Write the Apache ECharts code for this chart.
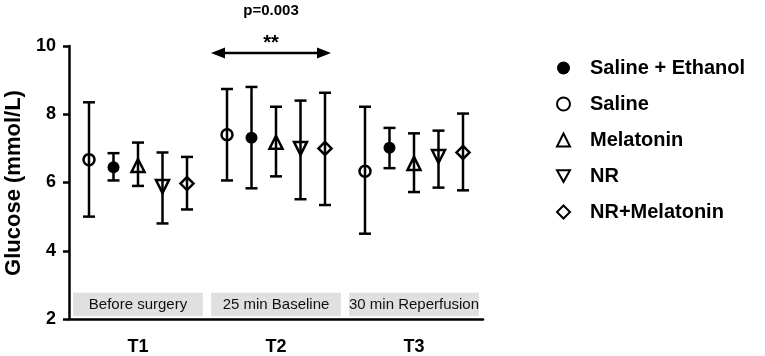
<!DOCTYPE html>
<html>
<head>
<meta charset="utf-8">
<script src="https://cdn.jsdelivr.net/npm/echarts@6/dist/echarts.min.js"></script>
<style>
  html, body { margin: 0; padding: 0; background: #fff; }
  #chart { width: 765px; height: 356px; }
</style>
</head>
<body>
<div id="chart"></div>
<script>
// time points and phase labels
var timepoints = ['T1', 'T2', 'T3'];
var phases = ['Before surgery', '25 min Baseline', '30 min Reperfusion'];

// glucose (mmol/L): mean, lower and upper end of error bar
var salineMean = [6.67, 7.40, 6.33];
var salineLow = [5.00, 6.06, 4.50];
var salineHigh = [8.35, 8.74, 8.22];

var salineEthanolMean = [6.45, 7.31, 7.02];
var salineEthanolLow = [6.06, 5.83, 6.42];
var salineEthanolHigh = [6.86, 8.80, 7.60];

var melatoninMean = [6.50, 7.18, 6.56];
var melatoninLow = [5.90, 6.18, 5.72];
var melatoninHigh = [7.17, 8.22, 7.44];

var nrMean = [5.88, 7.00, 6.76];
var nrLow = [4.80, 5.51, 5.85];
var nrHigh = [6.88, 8.40, 7.52];

var nrMelatoninMean = [5.97, 7.00, 6.88];
var nrMelatoninLow = [5.21, 5.34, 5.77];
var nrMelatoninHigh = [6.75, 8.63, 8.02];

var font = 'Arial, "Liberation Sans", sans-serif';
var barStyle = { stroke: '#000', lineWidth: 2.5 };
var downTriangle = 'path://M0,0 L20,0 L10,18 Z';

function errorBars(name, low, high, offset) {
    return {
        name: name,
        type: 'custom',
        z: 2,
        silent: true,
        encode: { x: 0, y: [1, 2] },
        data: timepoints.map(function (t, i) { return [i, low[i], high[i]]; }),
        renderItem: function (params, api) {
            var lo = api.coord([api.value(0), api.value(1)]);
            var hi = api.coord([api.value(0), api.value(2)]);
            var x = lo[0] + offset;
            var cap = 6;
            return {
                type: 'group',
                children: [
                    { type: 'line', shape: { x1: x, y1: lo[1], x2: x, y2: hi[1] }, style: barStyle },
                    { type: 'line', shape: { x1: x - cap, y1: hi[1], x2: x + cap, y2: hi[1] }, style: barStyle },
                    { type: 'line', shape: { x1: x - cap, y1: lo[1], x2: x + cap, y2: lo[1] }, style: barStyle }
                ]
            };
        }
    };
}

function points(name, mean, offset, symbol, size, filled) {
    return {
        name: name,
        type: 'scatter',
        z: 3,
        symbol: symbol,
        symbolSize: size,
        symbolOffset: [offset, 0],
        itemStyle: {
            color: filled ? '#000' : 'rgba(255,255,255,0)',
            borderColor: '#000',
            borderWidth: filled ? 0 : 2.5,
            opacity: 1
        },
        data: mean
    };
}

var step = 24.5;

var option = {
    animation: false,
    backgroundColor: '#fff',
    grid: { left: 69, right: 282, top: 46, bottom: 37, containLabel: false, outerBoundsMode: 'none' },
    xAxis: {
        type: 'category',
        data: timepoints,
        boundaryGap: true,
        axisLine: { lineStyle: { color: '#000', width: 2.5 } },
        axisTick: { alignWithLabel: true, length: 7, lineStyle: { color: '#000', width: 2.5 } },
        axisLabel: { color: '#000', fontWeight: 'bold', fontSize: 18, fontFamily: font, margin: 19 },
        splitLine: { show: false }
    },
    yAxis: {
        type: 'value',
        min: 2,
        max: 10,
        interval: 2,
        axisLine: { show: true, lineStyle: { color: '#000', width: 2.5 } },
        axisTick: { show: true, length: 6, lineStyle: { color: '#000', width: 2.5 } },
        axisLabel: { color: '#000', fontWeight: 'bold', fontSize: 18, fontFamily: font, margin: 13 },
        splitLine: { show: false }
    },
    legend: {
        orient: 'vertical',
        left: 551,
        top: 52,
        itemWidth: 13,
        itemHeight: 13,
        itemGap: 14,
        selectedMode: false,
        data: ['Saline + Ethanol', 'Saline', 'Melatonin', { name: 'NR', icon: downTriangle }, 'NR+Melatonin'],
        textStyle: { color: '#000', fontWeight: 'bold', fontSize: 20, fontFamily: font, lineHeight: 22, padding: [0, 0, 0, 15] }
    },
    graphic: [
        {
            type: 'text', x: 14, y: 183, rotation: Math.PI / 2,
            style: { text: 'Glucose (mmol/L)', font: 'bold 22px ' + font, fill: '#000', align: 'center', verticalAlign: 'middle' }
        },
        {
            type: 'text', x: 271, y: 11,
            style: { text: 'p=0.003', font: 'bold 15px ' + font, fill: '#000', align: 'center', verticalAlign: 'middle' }
        },
        {
            type: 'text', x: 271, y: 43,
            style: { text: '**', font: 'bold 20px ' + font, fill: '#000', align: 'center', verticalAlign: 'middle' }
        },
        { type: 'line', shape: { x1: 222, y1: 53, x2: 320, y2: 53 }, style: { stroke: '#000', lineWidth: 2.5 } },
        { type: 'polygon', shape: { points: [[211, 53], [225, 47.5], [225, 58.5]] }, style: { fill: '#000' } },
        { type: 'polygon', shape: { points: [[331, 53], [317, 47.5], [317, 58.5]] }, style: { fill: '#000' } }
    ],
    series: [
        {
            name: 'phase',
            type: 'custom',
            z: 1,
            silent: true,
            encode: { x: 0 },
            data: phases.map(function (p, i) { return [i]; }),
            renderItem: function (params, api) {
                var idx = api.value(0);
                var top = api.coord([idx, 2.77]);
                var bot = api.coord([idx, 2.08]);
                var w = api.size([1, 0])[0] * 0.94;
                return {
                    type: 'group',
                    children: [
                        { type: 'rect', shape: { x: top[0] - w / 2, y: top[1], width: w, height: bot[1] - top[1] }, style: { fill: '#e0e0e0' } },
                        { type: 'text', style: { text: phases[idx], x: top[0], y: (top[1] + bot[1]) / 2, align: 'center', verticalAlign: 'middle', font: '15px ' + font, fill: '#111' } }
                    ]
                };
            }
        },
        errorBars('err saline', salineLow, salineHigh, -2 * step),
        errorBars('err saline ethanol', salineEthanolLow, salineEthanolHigh, -step),
        errorBars('err melatonin', melatoninLow, melatoninHigh, 0),
        errorBars('err nr', nrLow, nrHigh, step),
        errorBars('err nr melatonin', nrMelatoninLow, nrMelatoninHigh, 2 * step),
        points('Saline', salineMean, -2 * step, 'circle', 11, false),
        points('Saline + Ethanol', salineEthanolMean, -step, 'circle', 12, true),
        points('Melatonin', melatoninMean, 0, 'triangle', 13, false),
        points('NR', nrMean, step, downTriangle, 13, false),
        points('NR+Melatonin', nrMelatoninMean, 2 * step, 'diamond', 13, false)
    ]
};

var myChart = echarts.init(document.getElementById('chart'));
myChart.setOption(option);
</script>
</body>
</html>
